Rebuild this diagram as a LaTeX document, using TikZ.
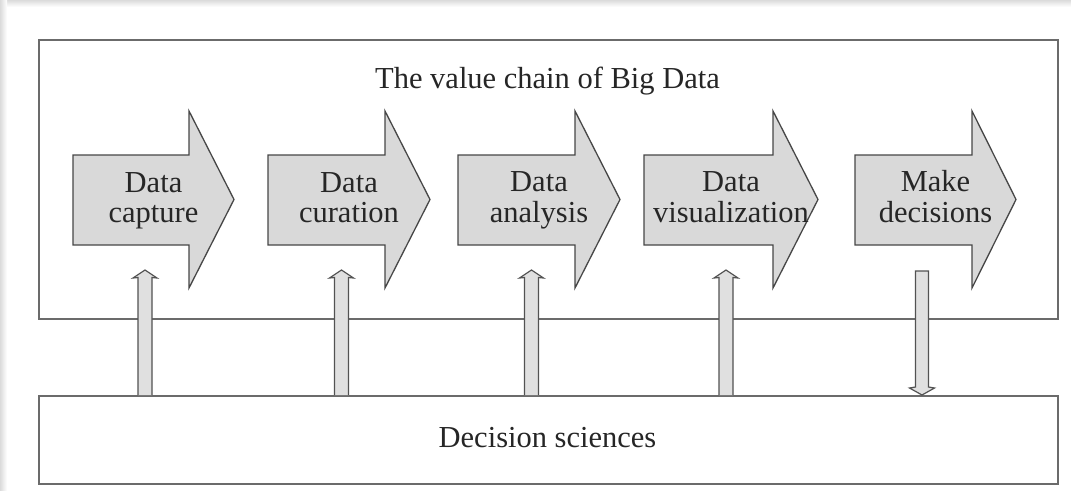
\documentclass[tikz,border=0pt]{standalone}
\usepackage{fontspec}
\setmainfont{Liberation Serif}
\begin{document}
\begin{tikzpicture}[x=1pt,y=-1pt,
  frame/.style={draw=black!58, line width=1.6pt, inner sep=0pt, anchor=north west},
  blockarrow/.style={draw=black!72, fill=black!15, line width=1.3pt, line join=miter},
  shaft/.style={draw=black!68, fill=black!12, line width=1.2pt, line join=miter},
  label/.style={font=\fontsize{30.5}{30}\selectfont, text=black!85, align=center},
  edgeband/.style={fill=black!10}]
  \useasboundingbox (0,0) rectangle (1071,490);
  \fill[white] (0,0) rectangle (1071,490);
  % soft page edge along the top and the left
  \shade[top color=black!14, bottom color=white] (0,0) rectangle (1071,7);
  \shade[left color=black!14, right color=white] (0,0) rectangle (7,490);

  % outer frames
  \node[frame, minimum width=1019pt, minimum height=279pt] (chain) at (38,39) {};
  \node[frame, minimum width=1019pt, minimum height=88pt] (ds) at (38,395) {};
  \node[label, anchor=base] (title) at (547.5,88) {The value chain of Big Data};
  \node[label, anchor=base] (dslabel) at (547.5,447) {Decision sciences};

  % the five stages of the chain
  \foreach \l/\n/\t/\name/\txt in {
      73/189/234/cap/{\strut Data\\capture\strut},
      268/385/430/cur/{\strut Data\\curation\strut},
      458/575/620/ana/{\strut Data\\analysis\strut},
      644/773/818/vis/{\strut Data\\visualization\strut},
      855/972/1016/dec/{\strut Make\\decisions\strut}} {
    \draw[blockarrow] (\l,155) -- (\n,155) -- (\n,111) -- (\t,199.5)
      -- (\n,288) -- (\n,245) -- (\l,245) -- cycle;
    \node[label] (\name) at ({(\l+\t)/2},201) {\txt};
  }

  % decision sciences feeding the first four stages
  \foreach \x in {145,341.5,531.5,726} {
    \draw[shaft] (\x-7,395) -- (\x-7,277.5) -- (\x-12,278) -- (\x,270)
      -- (\x+12,278) -- (\x+7,277.5) -- (\x+7,395);
  }
  % decisions feeding back
  \draw[shaft] (915.5,271) -- (928.5,271) -- (928.5,387) -- (934.5,388)
    -- (922,395) -- (909.5,388) -- (915.5,387) -- cycle;
\end{tikzpicture}
\end{document}
